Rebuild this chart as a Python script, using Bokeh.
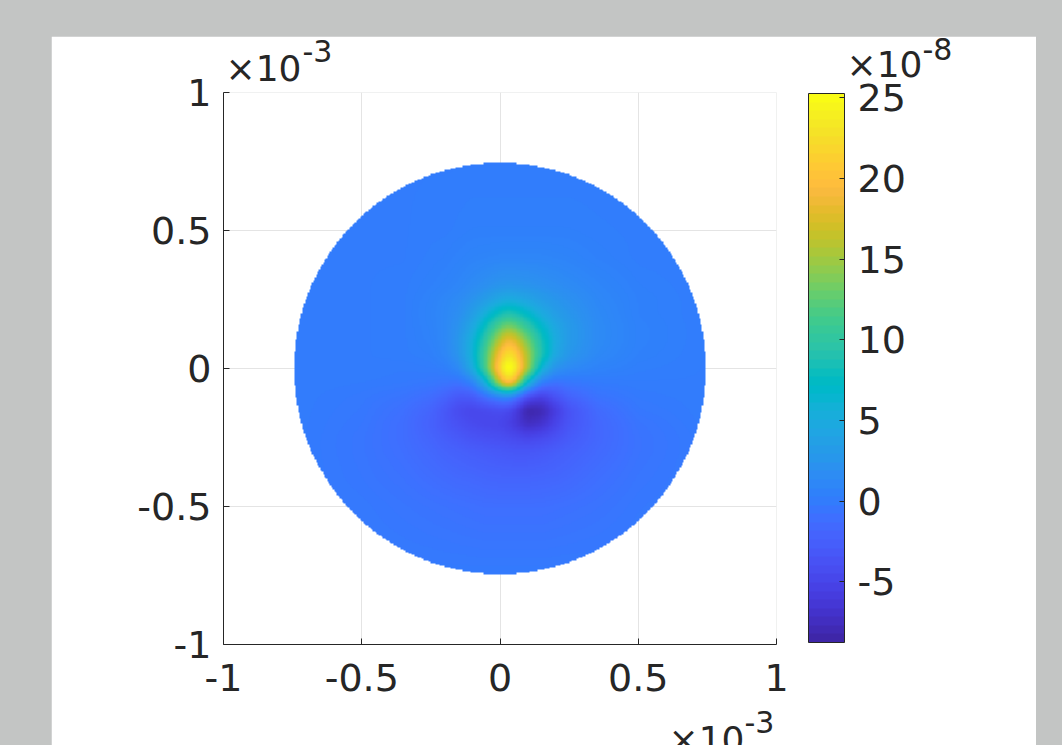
import numpy as np
from bokeh.plotting import figure
from bokeh.models import (LinearColorMapper, ColorBar, FixedTicker, Label, Range1d)
from bokeh.embed import file_html
from bokeh.resources import INLINE

# Values (field in units of 1e-8, positions in units of 1e-3)
x_read = [-0.75, -0.5, -0.35, -0.25, -0.2, -0.15, -0.1, -0.05, 0, 0.025, 0.05, 0.1, 0.15, 0.2, 0.25, 0.35, 0.5, 0.75]
y_read = [0.75, 0.5, 0.4, 0.3, 0.25, 0.2, 0.15, 0.1, 0.05, 0, -0.05, -0.1, -0.15, -0.2, -0.25, -0.3, -0.4, -0.5, -0.75]
field_read = [
 [0, 0, 0, 0, 0, 0, 0, 0, 0, 0, 0, 0, 0, 0, 0, 0, 0, 0],
 [0, 0, 0, .1, .1, .2, .3, .3, .3, .3, .3, .3, .3, .3, .3, .2, .1, 0],
 [0, 0, 0, .2, .3, .5, .7, .8, .9, .9, .9, .9, .9, .8, .7, .4, .1, 0],
 [0, 0, .1, .4, .6, .9, 1.4, 1.9, 2.4, 2.5, 2.5, 2.3, 2, 1.7, 1.4, .9, .3, 0],
 [0, 0, .1, .6, 1, 1.4, 2.2, 3.3, 4.6, 5, 4.9, 4.1, 3.2, 2.5, 2, 1.1, .4, 0],
 [0, 0, .1, .7, 1.1, 1.7, 3.3, 5.7, 8, 8.8, 8.6, 6.9, 4.9, 3.4, 2.5, 1.3, .4, 0],
 [0, 0, .1, .6, 1.1, 2.2, 4.5, 8.2, 12.5, 14, 13.5, 10.2, 7, 4.5, 3, 1.4, .5, 0],
 [0, 0, .1, .5, 1.1, 2.6, 5.6, 10.5, 16.5, 19, 18.5, 13.5, 8.6, 5, 3, 1.4, .5, 0],
 [0, 0, .1, .3, .9, 2.4, 5.8, 12, 20, 23, 22.5, 15.5, 9, 4.6, 2.6, 1.2, .4, 0],
 [0, 0, -.1, 0, .2, 1.2, 4.8, 12, 22.5, 26.5, 25.5, 15.5, 6, 2.2, 1.3, .6, .2, 0],
 [0, -.1, -.2, -.4, -.6, -.8, .6, 6, 17, 21, 19.5, 6.5, .2, -.9, -.5, -.1, 0, 0],
 [0, -.3, -.7, -1.3, -2.1, -3.2, -3, -.8, 1, 1.5, .3, -4.2, -5.5, -3.8, -2.2, -.8, -.2, 0],
 [0, -.4, -1.1, -2.1, -3.3, -4.6, -5, -4.7, -4.4, -4.6, -5.5, -8.8, -8.3, -6, -3.8, -1.6, -.4, 0],
 [0, -.5, -1.3, -2.4, -3.3, -4, -4.6, -4.9, -5, -5.4, -6, -7.6, -7, -5.2, -3.6, -1.9, -.7, 0],
 [0, -.6, -1.3, -2.1, -2.7, -3.2, -3.7, -4, -4.2, -4.4, -4.6, -5, -4.6, -3.9, -3, -1.9, -.8, -.1],
 [0, -.6, -1.2, -1.8, -2.2, -2.5, -2.8, -3, -3.2, -3.3, -3.4, -3.4, -3.2, -2.8, -2.4, -1.7, -.8, -.1],
 [0, -.5, -.9, -1.3, -1.5, -1.7, -1.8, -2, -2.1, -2.1, -2.1, -2.1, -2, -1.9, -1.7, -1.2, -.6, -.1],
 [0, -.3, -.6, -.8, -.9, -1, -1.1, -1.2, -1.2, -1.2, -1.2, -1.2, -1.2, -1.1, -1, -.8, -.4, -.1],
 [-.1, -.1, -.1, -.1, -.1, -.1, -.1, -.1, -.1, -.1, -.1, -.1, -.1, -.1, -.1, -.1, -.1, -.1],
]
disc_radius = 0.745
mesh_step = 0.005
clim = (-8.75, 25.27)
axis_ticks = [-1, -0.5, 0, 0.5, 1]
axis_tick_labels = ["-1", "-0.5", "0", "0.5", "1"]
cbar_ticks = [-5, 0, 5, 10, 15, 20, 25]
cbar_tick_labels = ["-5", "0", "5", "10", "15", "20", "25"]

parula = [(0.2422,0.1504,0.6603),(0.2504,0.1650,0.7076),(0.2578,0.1818,0.7511),(0.2647,0.1978,0.7952),
(0.2706,0.2147,0.8364),(0.2751,0.2342,0.8710),(0.2783,0.2559,0.8991),(0.2803,0.2782,0.9221),
(0.2813,0.3006,0.9414),(0.2810,0.3228,0.9579),(0.2795,0.3447,0.9717),(0.2760,0.3667,0.9829),
(0.2699,0.3892,0.9906),(0.2602,0.4123,0.9952),(0.2440,0.4358,0.9988),(0.2206,0.4603,0.9973),
(0.1963,0.4847,0.9892),(0.1834,0.5074,0.9798),(0.1786,0.5289,0.9682),(0.1764,0.5499,0.9520),
(0.1687,0.5703,0.9359),(0.1540,0.5902,0.9218),(0.1460,0.6091,0.9079),(0.1380,0.6276,0.8973),
(0.1248,0.6459,0.8883),(0.1113,0.6635,0.8763),(0.0952,0.6798,0.8598),(0.0689,0.6948,0.8394),
(0.0297,0.7082,0.8163),(0.0036,0.7203,0.7917),(0.0067,0.7312,0.7660),(0.0433,0.7411,0.7394),
(0.0964,0.7500,0.7120),(0.1408,0.7584,0.6842),(0.1717,0.7670,0.6554),(0.1938,0.7758,0.6251),
(0.2161,0.7843,0.5923),(0.2470,0.7918,0.5567),(0.2906,0.7973,0.5188),(0.3406,0.8008,0.4789),
(0.3909,0.8029,0.4354),(0.4456,0.8024,0.3909),(0.5044,0.7993,0.3480),(0.5616,0.7942,0.3045),
(0.6174,0.7876,0.2612),(0.6720,0.7793,0.2227),(0.7242,0.7698,0.1910),(0.7738,0.7598,0.1646),
(0.8203,0.7498,0.1535),(0.8634,0.7406,0.1596),(0.9035,0.7330,0.1774),(0.9393,0.7288,0.2100),
(0.9728,0.7298,0.2394),(0.9956,0.7434,0.2371),(0.9970,0.7659,0.2199),(0.9952,0.7893,0.2028),
(0.9892,0.8136,0.1885),(0.9786,0.8386,0.1766),(0.9676,0.8639,0.1643),(0.9610,0.8890,0.1537),
(0.9597,0.9135,0.1423),(0.9628,0.9373,0.1265),(0.9691,0.9606,0.1064),(0.9769,0.9839,0.0805)]
arr = np.array(parula)
palette = ["#%02x%02x%02x" % tuple(int(round(c * 255)) for c in rgb) for rgb in parula]
t = np.linspace(0, 63, 256)
smooth = np.stack([np.interp(t, np.arange(64), arr[:, k]) for k in range(3)], axis=1)
palette_smooth = ["#%02x%02x%02x" % tuple(int(round(c * 255)) for c in rgb) for rgb in smooth]

INK = "#262626"
FONT = "DejaVu Sans"
W, H = 985, 709          # white panel
PX0, PY0 = 51, 36        # its position on the page

# Interpolated shading of the read table onto the plot's mesh
mesh = np.arange(-1 + mesh_step / 2, 1, mesh_step)
F = np.array(field_read, dtype=float)
yr = np.array(y_read)[::-1]
F = F[::-1]
by_col = np.array([np.interp(mesh, yr, F[:, j]) for j in range(F.shape[1])]).T
Z = np.array([np.interp(mesh, x_read, row) for row in by_col])
kernel = np.ones(5) / 5
for _ in range(2):
    Z = np.apply_along_axis(lambda v: np.convolve(v, kernel, mode="same"), 0, Z)
    Z = np.apply_along_axis(lambda v: np.convolve(v, kernel, mode="same"), 1, Z)
XX, YY = np.meshgrid(mesh, mesh)
Z[XX**2 + YY**2 > disc_radius**2] = np.nan

image_mapper = LinearColorMapper(palette=palette_smooth, low=clim[0], high=clim[1], nan_color=(0, 0, 0, 0))
bar_mapper = LinearColorMapper(palette=palette, low=clim[0], high=clim[1])

p = figure(width=W, height=H, output_backend="svg", toolbar_location=None,
           x_range=Range1d(-1, 1), y_range=Range1d(-1, 1),
           min_border_left=223 - PX0, min_border_right=PX0 + W - 776,
           min_border_top=92 - PY0, min_border_bottom=PY0 + H - 644,
           background_fill_color="white", border_fill_color="white", outline_line_color=None)

p.image(image=[Z], x=-1, y=-1, dw=2, dh=2, color_mapper=image_mapper)

for ax, standoff in ((p.xaxis[0], 19), (p.yaxis[0], 12)):
    ax.ticker = FixedTicker(ticks=axis_ticks)
    ax.major_label_overrides = dict(zip(axis_ticks, axis_tick_labels))
    ax.major_label_text_font = FONT
    ax.major_label_text_font_size = "38px"
    ax.major_label_text_color = INK
    ax.major_label_standoff = standoff
    ax.major_tick_in = 6
    ax.major_tick_out = 0
    ax.minor_tick_in = 0
    ax.minor_tick_out = 0
    ax.major_tick_line_color = INK
    ax.axis_line_color = INK
for g in (p.xgrid[0], p.ygrid[0]):
    g.ticker = FixedTicker(ticks=axis_ticks)
    g.grid_line_color = "#e4e4e4"

cb = ColorBar(color_mapper=bar_mapper, ticker=FixedTicker(ticks=cbar_ticks),
              major_label_overrides=dict(zip(cbar_ticks, cbar_tick_labels)), width=36, height=549,
              location=(808 - 223, 745 - 642 - 101), padding=0, margin=0,
              bar_line_color=INK, major_tick_line_color=INK, major_tick_in=5, minor_tick_line_color=None,
              major_label_text_font=FONT, major_label_text_font_size="38px", major_label_text_color=INK,
              label_standoff=13, background_fill_alpha=0, border_line_color=None)
p.add_layout(cb, "center")

BIG, SMALL = "36px", "30px"
W_BIG, W_SMALL = 76, 30   # widths that the side panel stacks the labels by
BASELINE_LIFT = 14        # the alphabetic labels sit this much below the y that they are given
stack = 0


def right_label(text, page_x, page_y, size, width):
    """Labels live in the right panel, which stacks them left to right; y counts from the frame's bottom."""
    global stack
    p.add_layout(Label(x=page_x - 776 - stack, y=644 - page_y + BASELINE_LIFT, x_units="screen", y_units="screen",
                       text=text, text_font=FONT, text_font_size=size, text_color=INK,
                       text_baseline="alphabetic"), "right")
    stack += width


# top-left "×10" sits in the panel above the frame
p.add_layout(Label(x=225 - 223, y=92 - 82 + BASELINE_LIFT, x_units="screen", y_units="screen",
                   text="×10", text_font=FONT, text_font_size=BIG, text_color=INK,
                   text_baseline="alphabetic"), "above")
right_label("×10", 846, 78, BIG, W_BIG)
right_label("-8", 922, 62, SMALL, W_SMALL)
right_label("×10", 668, 753, BIG, W_BIG)
right_label("-3", 744, 735, SMALL, W_SMALL)
right_label("-3", 302, 64, SMALL, W_SMALL)

html = file_html(p, INLINE)
style = ("<style>html,body{background:#c3c5c4;margin:0;overflow:hidden}"
         "body{padding:%dpx 0 0 %dpx;box-sizing:border-box;height:745px}</style>" % (PY0, PX0))
html = html.replace("</head>", style + "</head>", 1)
open("out.html", "w").write(html)
